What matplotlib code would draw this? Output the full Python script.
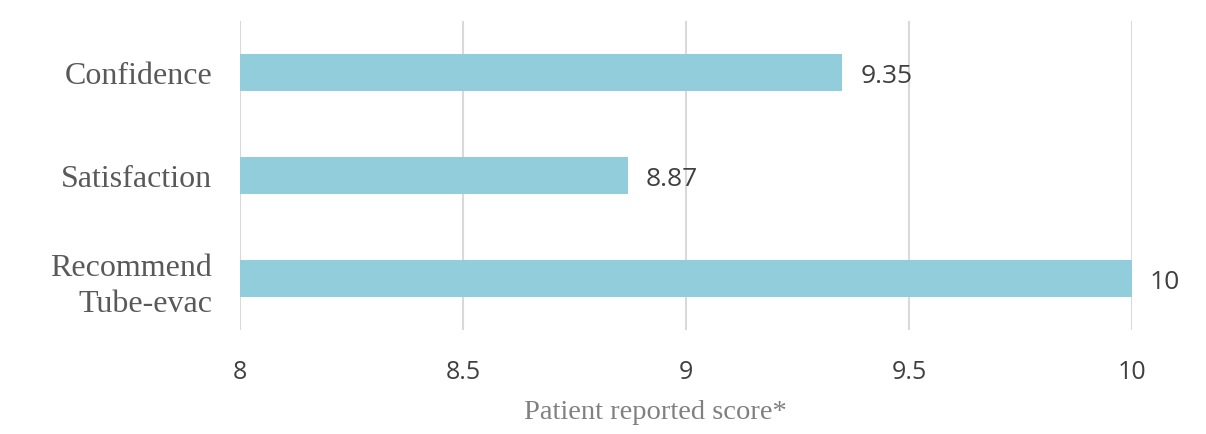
import matplotlib
matplotlib.use("Agg")
import matplotlib.pyplot as plt

categories = ["Confidence", "Satisfaction", "Recommend\nTube-evac"]
values = [9.35, 8.87, 10]
value_labels = ["9.35", "8.87", "10"]
xticks = [8, 8.5, 9, 9.5, 10]
xtick_labels = ["8", "8.5", "9", "9.5", "10"]

W, H = 1206, 435
fig = plt.figure(figsize=(W/100, H/100), dpi=100)
ax = fig.add_axes([240/W, 1-331/H, (1132-240)/W, (331-22)/H])

ypos = list(range(len(categories)))
ax.barh(ypos, [v - 8 for v in values], left=8, height=0.355, color="#92CDDC", zorder=3)
ax.set_ylim(2.5, -0.5)
ax.set_xlim(8, 10)
ax.set_xticks(xticks)
ax.set_xticklabels(xtick_labels, family="Open Sans", fontsize=18, color="#404040")
ax.set_yticks(ypos)
ax.set_yticklabels(categories, family="Liberation Serif", fontsize=23, color="#595959", linespacing=1.3)
ax.tick_params(axis="both", length=0)
ax.tick_params(axis="x", pad=21)
ax.tick_params(axis="y", pad=20)
for s in ax.spines.values():
    s.set_visible(False)
ax.grid(axis="x", color="#D9D9D9", linewidth=1.5, zorder=0)
ax.set_axisbelow(True)

for y, v, lab in zip(ypos, values, value_labels):
    ax.annotate(lab, (v, y), xytext=(13, -2), textcoords="offset points",
                va="center", ha="left", family="Open Sans", fontsize=19, color="#404040")

fig.text(655/W, 1-413/H, "Patient reported score*", family="Liberation Serif", fontsize=20.5,
         color="#808080", ha="center", va="center")

fig.savefig("out.png", dpi=100)
